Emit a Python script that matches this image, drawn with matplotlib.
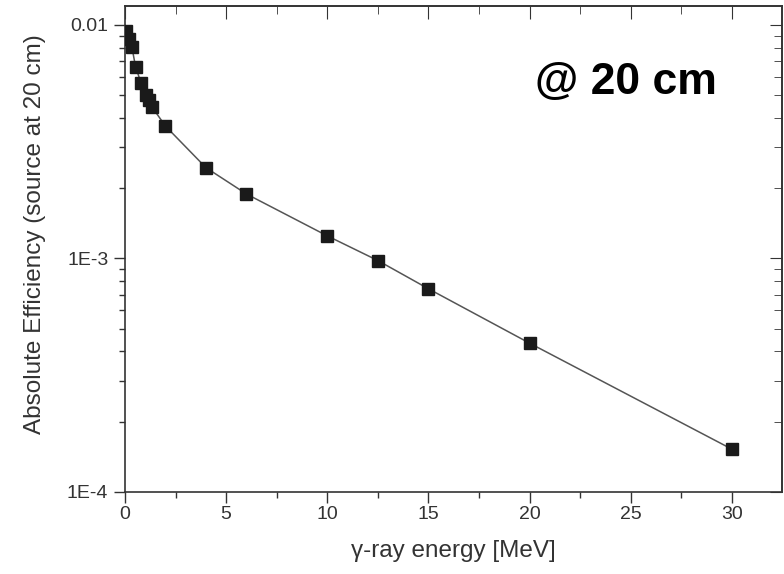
import matplotlib
matplotlib.use('Agg')
import matplotlib.pyplot as plt
from matplotlib.ticker import LogLocator, FixedLocator, FixedFormatter, MultipleLocator, NullFormatter

# gamma-ray energy [MeV] and absolute efficiency at 20 cm
energy = [0.06, 0.19, 0.34, 0.52, 0.79, 1.04, 1.19, 1.34, 2.0,
          4.0, 6.0, 10.0, 12.5, 15.0, 20.0, 30.0]
efficiency = [0.00947, 0.00873, 0.00805, 0.00664, 0.00565, 0.00501, 0.00475, 0.00445, 0.00369,
              0.00245, 0.00189, 0.00125, 0.00098, 0.000742, 0.000434, 0.0001526]

y_ticks = [1e-4, 1e-3, 1e-2]
y_labels = ['1E-4', '1E-3', '0.01']
x_ticks = [0, 5, 10, 15, 20, 25, 30]


def main():
    plt.rcParams['font.family'] = ['Liberation Sans', 'DejaVu Sans']

    fig = plt.figure(figsize=(7.84, 5.74), dpi=100)
    ax = fig.add_axes([125 / 784, 82 / 574, 657 / 784, 486 / 574])

    ax.plot(energy, efficiency, '-', color='#555555', lw=1.1, zorder=2)
    ax.plot(energy, efficiency, 's', color='#1a1a1a', ms=8.3, mec='#1a1a1a', zorder=3)

    ax.set_yscale('log')
    ax.set_xlim(0, 32.48)
    ax.set_ylim(1e-4, 0.01206)

    ax.yaxis.set_major_locator(FixedLocator(y_ticks))
    ax.yaxis.set_major_formatter(FixedFormatter(y_labels))
    ax.yaxis.set_minor_locator(LogLocator(base=10, subs=range(2, 10)))
    ax.yaxis.set_minor_formatter(NullFormatter())

    ax.xaxis.set_major_locator(FixedLocator(x_ticks))
    ax.xaxis.set_minor_locator(MultipleLocator(2.5))

    ax.tick_params(which='both', direction='out', labelsize=14, color='#333333',
                   labelcolor='#333333', width=1)
    ax.tick_params(which='major', length=8)
    ax.tick_params(which='minor', length=4.5)
    ax.tick_params(axis='x', pad=2)
    ax.tick_params(axis='y', pad=4)

    # mirrored ticks on top and right, pointing inward
    top = ax.secondary_xaxis('top')
    top.xaxis.set_major_locator(FixedLocator(x_ticks))
    top.xaxis.set_minor_locator(MultipleLocator(2.5))
    top.tick_params(which='both', direction='in', labeltop=False, color='#333333')
    top.tick_params(which='major', length=9)
    top.tick_params(which='minor', length=6)

    right = ax.secondary_yaxis('right')
    right.yaxis.set_major_locator(FixedLocator(y_ticks))
    right.yaxis.set_minor_locator(LogLocator(base=10, subs=range(2, 10)))
    right.yaxis.set_minor_formatter(NullFormatter())
    right.tick_params(which='both', direction='in', labelright=False, color='#333333')
    right.tick_params(which='major', length=9)
    right.tick_params(which='minor', length=6)

    for s in list(ax.spines.values()) + [top.spines['top'], right.spines['right']]:
        s.set_linewidth(1.2)
        s.set_color('#333333')

    ax.set_xlabel('γ-ray energy [MeV]', fontsize=17.5, color='#333333', labelpad=12)
    ax.set_ylabel('Absolute Efficiency (source at 20 cm)', fontsize=17.5, color='#333333')
    ax.yaxis.set_label_coords(-0.12, 0.53)

    ax.text(0.7626, 0.8416, '@ 20 cm', transform=ax.transAxes, fontsize=32,
            fontweight='bold', ha='center', va='center')

    fig.savefig('out.png', dpi=100)


if __name__ == '__main__':
    main()
